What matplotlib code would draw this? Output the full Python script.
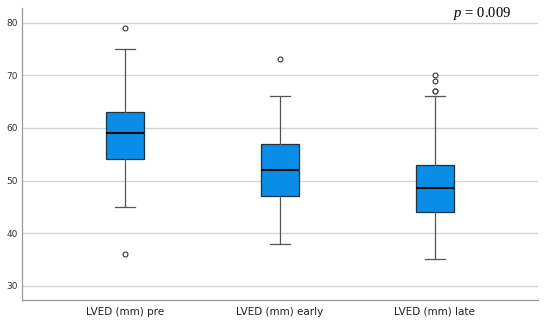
import matplotlib
matplotlib.use("Agg")
import matplotlib.pyplot as plt

plt.rcParams["mathtext.fontset"] = "custom"
plt.rcParams["mathtext.it"] = "Liberation Serif:italic"
plt.rcParams["mathtext.rm"] = "Liberation Serif"

labels = ["LVED (mm) pre", "LVED (mm) early", "LVED (mm) late"]
q1 = [54, 47, 44]
med = [59, 52, 48.5]
q3 = [63, 57, 53]
whislo = [45, 38, 35]
whishi = [75, 66, 66]
fliers = [[79, 36], [73], [70, 69, 67, 67]]

stats = []
for i in range(len(labels)):
    stats.append({"label": labels[i], "q1": q1[i], "med": med[i], "q3": q3[i],
                  "whislo": whislo[i], "whishi": whishi[i], "fliers": fliers[i]})

fig = plt.figure(figsize=(5.5, 3.24), dpi=100)
ax = fig.add_axes([0.04, 0.074, 0.938, 0.90])

ax.bxp(stats, positions=[1, 2, 3], widths=0.245, patch_artist=True,
       boxprops=dict(facecolor="#0a8de6", edgecolor="#1f3347", linewidth=0.9),
       medianprops=dict(color="#0a0a0a", linewidth=1.5),
       whiskerprops=dict(color="#555555", linewidth=0.9),
       capprops=dict(color="#555555", linewidth=0.9),
       capwidths=0.13,
       flierprops=dict(marker="o", markersize=3.5, markerfacecolor="white",
                       markeredgecolor="#333333", markeredgewidth=0.8))

ax.set_xlim(0.335, 3.665)
ax.set_ylim(27.3, 82.7)
ax.set_yticks([30, 40, 50, 60, 70, 80])
ax.yaxis.grid(True, color="#d4d4d4", linewidth=1.0)
ax.set_axisbelow(True)
ax.tick_params(axis="both", length=0)
ax.tick_params(axis="y", labelsize=6.5, labelcolor="#333333", pad=3)
ax.tick_params(axis="x", labelsize=7.5, labelcolor="#222222", pad=5)
for s in ["top", "right"]:
    ax.spines[s].set_visible(False)
for s in ["left", "bottom"]:
    ax.spines[s].set_color("#999999")
    ax.spines[s].set_linewidth(0.9)

ax.text(0.891, 0.984, "$p$ = 0.009", transform=ax.transAxes, ha="center",
        va="center", fontsize=10.5, family="Liberation Serif")

fig.savefig("out.png", dpi=100)
